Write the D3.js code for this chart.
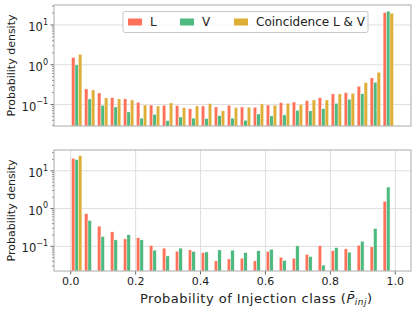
<!DOCTYPE html>
<html>
<head>
<meta charset="utf-8">
<script src="https://cdn.jsdelivr.net/npm/d3@7"></script>
<style>
  body { margin: 0; background: #fff; }
  svg { font-family: "DejaVu Sans", sans-serif; }
</style>
</head>
<body>
<script>
"use strict"

// Histogram densities, 25 bins of width 0.04 on [0, 1]
const binWidth = 0.04
const seriesNames = ["L", "V", "Coincidence L & V"]
const seriesColors = ["tomato", "mediumseagreen", "goldenrod"]

const topL = [1.47, 0.239, 0.189, 0.144, 0.134, 0.110, 0.094, 0.093, 0.091, 0.076, 0.089, 0.084, 0.093,
  0.084, 0.083, 0.094, 0.108, 0.112, 0.121, 0.143, 0.179, 0.193, 0.279, 0.452, 19.9]
const topV = [0.96, 0.134, 0.092, 0.084, 0.063, 0.044, 0.055, 0.038, 0.047, 0.044, 0.043, 0.051, 0.044,
  0.039, 0.056, 0.050, 0.053, 0.069, 0.067, 0.076, 0.104, 0.131, 0.182, 0.352, 21.6]
const topC = [1.78, 0.225, 0.142, 0.134, 0.126, 0.094, 0.089, 0.106, 0.081, 0.089, 0.102, 0.067, 0.081,
  0.083, 0.100, 0.093, 0.104, 0.098, 0.126, 0.126, 0.179, 0.186, 0.344, 0.63, 19.2]

const botL = [20.7, 0.706, 0.333, 0.235, 0.153, 0.163, 0.102, 0.087, 0.072, 0.078, 0.066, 0.040, 0.045,
  0.047, 0.040, 0.071, 0.050, 0.047, 0.059, 0.100, 0.074, 0.083, 0.104, 0.094, 1.50]
const botV = [19.1, 0.47, 0.177, 0.144, 0.196, 0.144, 0.077, 0.054, 0.087, 0.071, 0.069, 0.078, 0.077,
  0.066, 0.074, 0.081, 0.041, 0.100, 0.052, 0.031, 0.090, 0.068, 0.133, 0.288, 3.6]
const botC = [24.4, 0, 0, 0, 0, 0, 0, 0, 0, 0, 0, 0, 0, 0, 0, 0, 0, 0, 0, 0, 0, 0, 0, 0, 0]

const xTicks = [0, 0.2, 0.4, 0.6, 0.8, 1.0]
const yMajor = [0.1, 1, 10]
const yExponents = ["\u22121", "0", "1"]

const width = 416
const height = 312
const left = 54
const right = 411

const panels = [
  { series : [topL, topV, topC], top : 5,   bottom : 126, domain : [0.0279, 30.9], xAxis : false },
  { series : [botL, botV, botC], top : 150, bottom : 271, domain : [0.0216, 34.4], xAxis : true },
]

const x = d3.scaleLinear().domain([-0.05, 1.05]).range([left, right])
const barW = binWidth * 0.8 / seriesNames.length

const svg = d3.select("body").append("svg")
  .attr("width", width)
  .attr("height", height)

const gridLines = sel => sel
  .call(a => a.select(".domain").remove())
  .selectAll("line").attr("stroke", "#dedede").attr("stroke-width", 1)

const tickLines = w => sel => sel
  .call(a => a.select(".domain").remove())
  .selectAll("line").attr("stroke", "#444").attr("stroke-width", w)

const drawPanel = (panel, idx) => {
  const { series, top, bottom, domain } = panel
  const y = d3.scaleLog().domain(domain).range([bottom, top])
  const g = svg.append("g")

  g.append("clipPath").attr("id", `clip${idx}`)
    .append("rect").attr("x", left).attr("y", top).attr("width", right - left).attr("height", bottom - top)

  // grid
  g.append("g").attr("transform", `translate(${left},0)`)
    .call(d3.axisLeft(y).tickValues(yMajor).tickSize(-(right - left)).tickFormat(""))
    .call(gridLines)
  if (panel.xAxis)
    g.append("g").attr("transform", `translate(0,${bottom})`)
      .call(d3.axisBottom(x).tickValues(xTicks).tickSize(-(bottom - top)).tickFormat(""))
      .call(gridLines)

  // bars
  const bars = g.append("g").attr("clip-path", `url(#clip${idx})`)
  series.forEach((values, i) => {
    bars.selectAll(null)
      .data(values.map((v, k) => ({ v, k })).filter(d => d.v > 0))
      .join("rect")
      .attr("x", d => x(d.k * binWidth + 0.1 * binWidth + i * barW))
      .attr("width", x(barW) - x(0))
      .attr("y", d => y(d.v))
      .attr("height", d => bottom - y(d.v))
      .attr("fill", seriesColors[i])
      .attr("fill-opacity", 0.9)
      .attr("stroke", "#fff")
      .attr("stroke-width", 0.4)
  })

  // y ticks, minor then major
  const minor = y.ticks().filter(t => !yMajor.some(m => Math.abs(m - t) < 1e-9))
  g.append("g").attr("transform", `translate(${left},0)`)
    .call(d3.axisLeft(y).tickValues(minor).tickSize(2).tickFormat(""))
    .call(tickLines(0.6))
  g.append("g").attr("transform", `translate(${left},0)`)
    .call(d3.axisLeft(y).tickValues(yMajor).tickSize(3.5).tickFormat(""))
    .call(tickLines(0.8))

  const labels = g.append("g").selectAll("text").data(yMajor).join("text")
    .attr("x", 48)
    .attr("y", d => y(d) + 6.6)
    .attr("text-anchor", "end")
    .attr("font-size", 11.5)
    .attr("fill", "#222")
  labels.append("tspan").text("10")
  labels.append("tspan").text((d, i) => yExponents[i])
    .attr("font-size", 8).attr("dy", -6.2)

  if (panel.xAxis)
    g.append("g").attr("transform", `translate(0,${bottom})`)
      .call(d3.axisBottom(x).tickValues(xTicks).tickSize(3.5).tickPadding(3).tickFormat(d3.format(".1f")))
      .call(tickLines(0.8))
      .call(a => a.selectAll("text").attr("font-size", 11).attr("fill", "#222")
        .attr("font-family", "DejaVu Sans"))

  // frame
  g.append("rect")
    .attr("x", left).attr("y", top)
    .attr("width", right - left).attr("height", bottom - top)
    .attr("fill", "none").attr("stroke", "#aaa").attr("stroke-width", 1)

  g.append("text")
    .attr("transform", `translate(15,${(top + bottom) / 2}) rotate(-90)`)
    .attr("text-anchor", "middle")
    .attr("font-size", 11)
    .attr("fill", "#222")
    .text("Probability density")
}

panels.forEach(drawPanel)

// legend
const legend = svg.append("g")
legend.append("rect")
  .attr("x", 123).attr("y", 11.5).attr("width", 245).attr("height", 21).attr("rx", 2)
  .attr("fill", "#fff").attr("fill-opacity", 0.8)
  .attr("stroke", "#c8c8c8").attr("stroke-width", 1)
const legendX = [128, 180, 234]
seriesNames.forEach((name, i) => {
  legend.append("rect")
    .attr("x", legendX[i]).attr("y", 18.5).attr("width", 14).attr("height", 7)
    .attr("fill", seriesColors[i]).attr("fill-opacity", 0.9)
  legend.append("text")
    .attr("x", legendX[i] + 22).attr("y", 26.3)
    .attr("font-size", 12).attr("fill", "#222")
    .text(name)
})

// x label
const xlabel = svg.append("text")
  .attr("x", 140).attr("y", 302.5)
  .attr("font-size", 13)
  .attr("fill", "#222")
  .attr("textLength", 232)
  .attr("lengthAdjust", "spacing")
xlabel.append("tspan").text("Probability of Injection class (")
xlabel.append("tspan").attr("font-style", "italic").text("P\u0304")
xlabel.append("tspan").attr("font-style", "italic").attr("font-size", 9).attr("dy", 2.8).text("inj")
xlabel.append("tspan").attr("dy", -2.8).text(")")
</script>
</body>
</html>
